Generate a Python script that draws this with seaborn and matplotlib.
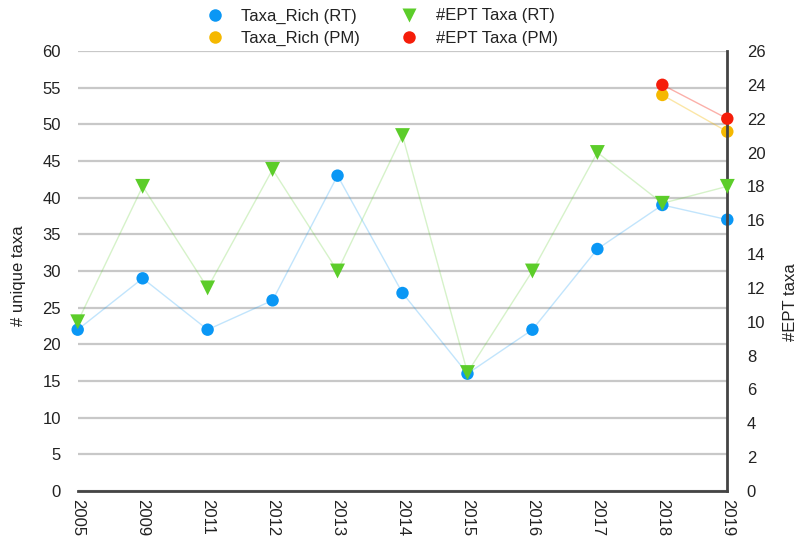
import pandas as pd
import matplotlib.pyplot as plt
import seaborn as sns
from matplotlib.lines import Line2D

# Data
years = ['2005', '2009', '2011', '2012', '2013', '2014', '2015', '2016', '2017', '2018', '2019']
taxa_rich_rt = [22, 29, 22, 26, 43, 27, 16, 22, 33, 39, 37]
ept_taxa_rt = [10, 18, 12, 19, 13, 21, 7, 13, 20, 17, 18]
pm_years = ['2018', '2019']
taxa_rich_pm = [54, 49]
ept_taxa_pm = [24, 22]

rt = pd.DataFrame({'pos': range(len(years)), 'rich': taxa_rich_rt, 'ept': ept_taxa_rt})
pm = pd.DataFrame({'pos': [years.index(y) for y in pm_years], 'rich': taxa_rich_pm, 'ept': ept_taxa_pm})

blue = '#0a97f5'
orange = '#f5b800'
green = '#5ccd2a'
red = '#f51d0a'

sns.set_style('white')
plt.rcParams['font.family'] = ['Liberation Sans', 'DejaVu Sans']

fig = plt.figure(figsize=(8.01, 5.42), dpi=100)
ax = fig.add_axes([0.097, 0.094, 0.811, 0.812])
ax2 = ax.twinx()

# thin faded connecting lines
sns.lineplot(data=rt, x='pos', y='rich', ax=ax, color=blue, alpha=0.25, lw=1)
sns.lineplot(data=pm, x='pos', y='rich', ax=ax, color=orange, alpha=0.35, lw=1)
sns.lineplot(data=rt, x='pos', y='ept', ax=ax2, color=green, alpha=0.25, lw=1)
sns.lineplot(data=pm, x='pos', y='ept', ax=ax2, color=red, alpha=0.35, lw=1)

# markers
sns.scatterplot(data=rt, x='pos', y='rich', ax=ax, color=blue, s=80, edgecolor='none', zorder=5, clip_on=False)
sns.scatterplot(data=pm, x='pos', y='rich', ax=ax, color=orange, s=80, edgecolor='none', zorder=5, clip_on=False)
sns.scatterplot(data=rt, x='pos', y='ept', ax=ax2, color=green, marker='v', s=115, edgecolor='none', zorder=5, clip_on=False)
sns.scatterplot(data=pm, x='pos', y='ept', ax=ax2, color=red, s=80, edgecolor='none', zorder=6, clip_on=False)

ax.set_xlim(0, len(years) - 1)
ax.set_ylim(0, 60)
ax2.set_ylim(0, 26)
ax.set_yticks(range(0, 61, 5))
ax2.set_yticks(range(0, 27, 2))
ax.set_xticks(range(len(years)))
ax.set_xticklabels(years, rotation=270, fontsize=12, color='#222222')
ax.tick_params(axis='y', labelsize=12, labelcolor='#222222', length=0, pad=12)
ax.tick_params(axis='x', length=0, pad=6)
ax2.tick_params(axis='y', labelsize=12, labelcolor='#222222', length=0, pad=14)

ax.grid(axis='y', color='#c8c8c8', lw=1.6)
ax.set_axisbelow(True)
for a in (ax, ax2):
    for side in ('top', 'left', 'right', 'bottom'):
        a.spines[side].set_visible(False)
ax.spines['bottom'].set_visible(True)
ax.spines['bottom'].set_color('#444444')
ax.spines['bottom'].set_linewidth(2)
ax2.spines['right'].set_visible(True)
ax2.spines['right'].set_color('#444444')
ax2.spines['right'].set_linewidth(2)

ax.set_xlabel('')
ax.set_ylabel('# unique taxa', fontsize=12, color='#222222')
ax2.set_ylabel('#EPT taxa', fontsize=12, color='#222222', rotation=90)
ax.yaxis.set_label_coords(-0.08, 0.49)
ax2.yaxis.set_label_coords(1.085, 0.43)

handles = [
    Line2D([0], [0], marker='o', color='none', markerfacecolor=blue, markeredgecolor='none', markersize=9, label='Taxa_Rich (RT)'),
    Line2D([0], [0], marker='o', color='none', markerfacecolor=orange, markeredgecolor='none', markersize=9, label='Taxa_Rich (PM)'),
    Line2D([0], [0], marker='v', color='none', markerfacecolor=green, markeredgecolor='none', markersize=10, label='#EPT Taxa (RT)'),
    Line2D([0], [0], marker='o', color='none', markerfacecolor=red, markeredgecolor='none', markersize=9, label='#EPT Taxa (PM)'),
]
fig.legend(handles=handles, ncol=2, loc='upper center', bbox_to_anchor=(0.476, 1.012),
           frameon=False, fontsize=12, handletextpad=1.0, columnspacing=2.35,
           labelspacing=0.45, handlelength=1.2, labelcolor='#222222')

fig.savefig('out.png', dpi=100)
